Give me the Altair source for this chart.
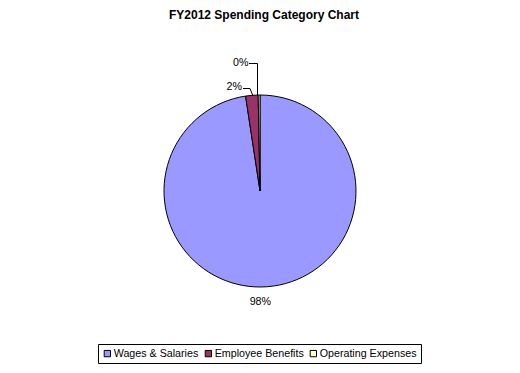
import altair as alt
import pandas as pd

categories = ["Wages & Salaries", "Employee Benefits", "Operating Expenses"]
shares = [97.6, 2.1, 0.3]
colors = ["#9999FF", "#993366", "#FFFFCC"]
title_text = "FY2012 Spending Category Chart"

df = pd.DataFrame({"category": categories, "value": shares, "idx": list(range(len(categories)))})

FONT = "Liberation Sans"
FS = 10.7
CX, CY, R = 252, 183, 96

base = alt.Chart(df).transform_joinaggregate(total="sum(value)").transform_calculate(
    pct="datum.value / datum.total"
)

theta = alt.Theta("value:Q", stack=True)
order = alt.Order("idx:Q", sort="ascending")

pie = base.mark_arc(radius=R, stroke="black", strokeWidth=1).encode(
    theta=theta,
    order=order,
    color=alt.Color(
        "category:N",
        scale=alt.Scale(domain=categories, range=colors),
        sort=categories,
        legend=alt.Legend(
            title=None,
            orient="none",
            legendX=90,
            legendY=336,
            direction="horizontal",
            symbolType="square",
            symbolSize=40,
            symbolStrokeColor="black",
            symbolStrokeWidth=1,
            labelFont=FONT,
            labelFontSize=FS,
            labelColor="black",
            labelOffset=1,
            columnPadding=4,
            strokeColor="black",
            fillColor="white",
            padding=4,
        ),
    ),
    x=alt.value(CX),
    y=alt.value(CY),
)

def label_layer(cat, rad, dx, dy):
    return base.mark_text(
        font=FONT, fontSize=FS, dx=dx, dy=dy, fill="black"
    ).encode(
        theta=theta,
        order=order,
        text=alt.Text("pct:Q", format=".0%"),
        radius=alt.value(rad),
        x=alt.value(CX),
        y=alt.value(CY),
        opacity=alt.condition(alt.datum.category == cat, alt.value(1), alt.value(0)),
    )

lab_w = label_layer(categories[0], 111, -8, 0)
lab_b = label_layer(categories[1], 104, -17, 0)
lab_o = label_layer(categories[2], 128, -18, 0)

def rule(x1, y1, x2, y2):
    return alt.Chart(pd.DataFrame({"a": [0]})).mark_rule(color="black", strokeWidth=1).encode(
        x=alt.value(x1), y=alt.value(y1), x2=alt.value(x2), y2=alt.value(y2)
    )

leaders = [
    rule(241, 55.5, 249.5, 55.5),
    rule(249.5, 55.5, 249.5, 87),
    rule(235, 80.5, 242, 80.5),
    rule(242, 80.5, 245, 88),
]

title = alt.Chart(pd.DataFrame({"t": [title_text]})).mark_text(
    font=FONT, fontSize=12, fontWeight="bold", fill="black"
).encode(text="t:N", x=alt.value(256), y=alt.value(7))

chart = alt.layer(pie, lab_w, lab_b, lab_o, *leaders, title).properties(
    width=504, height=357, autosize=alt.AutoSizeParams(type="none"), padding=0,
    background="white",
).configure_view(stroke=None, strokeWidth=0)

chart.save("out.html", embed_options={"renderer": "svg", "actions": False})
